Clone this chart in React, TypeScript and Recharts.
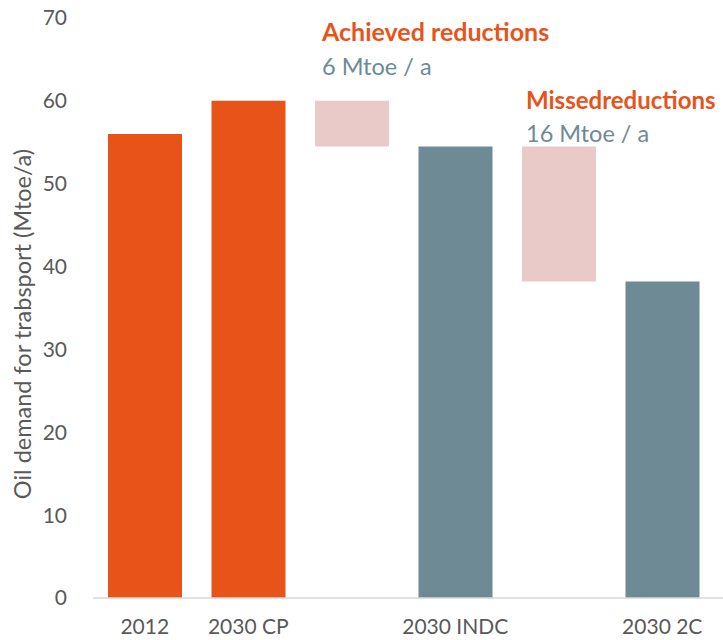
import { BarChart, Bar, XAxis, YAxis, Cell } from "recharts";

const categories = ["2012", "2030 CP", "achieved", "2030 INDC", "missed", "2030 2C"];
const tickLabels = ["2012", "2030 CP", "", "2030 INDC", "", "2030 2C"];
const lowValues = [0, 0, 54.5, 0, 38.2, 0];
const highValues = [56.0, 60.0, 60.0, 54.5, 54.5, 38.2];
const barColors = ["#E8531A", "#E8531A", "#E9CAC8", "#6E8A94", "#E9CAC8", "#6E8A94"];
const yTicks = [0, 10, 20, 30, 40, 50, 60, 70];

const data = categories.map((name, i) => ({
  name,
  label: tickLabels[i],
  range: [lowValues[i], highValues[i]],
}));

const FONT = "Lato, 'Open Sans', sans-serif";

export default function App() {
  return (
    <div style={{ position: "relative", width: 723, height: 640, fontFamily: FONT }}>
      <style>{`body { margin: 0; }`}</style>
      <BarChart
        width={723} height={640} data={data}
        margin={{ top: 18, right: 0, bottom: 12, left: 0 }}
        barSize={74}
      >
        <XAxis
          dataKey="name"
          tickFormatter={(v: string) => tickLabels[categories.indexOf(v)]}
          axisLine={{ stroke: "#d9d9d9", strokeWidth: 1.5 }}
          tickLine={false}
          tickMargin={15}
          padding={{ left: 0, right: 9 }}
          tick={{ fill: "#595959", fontSize: 21, fontFamily: FONT }}
          interval={0}
        />
        <YAxis
          width={93}
          domain={[0, 70]}
          ticks={yTicks}
          axisLine={false}
          tickLine={false}
          tickMargin={20}
          tick={{ fill: "#595959", fontSize: 21, fontFamily: FONT }}
        />
        <Bar dataKey="range" isAnimationActive={false}>
          {data.map((d, i) => (
            <Cell key={d.name} fill={barColors[i]} />
          ))}
        </Bar>
      </BarChart>

      {/* annotations and axis title */}
      <svg width={723} height={640} style={{ position: "absolute", left: 0, top: 0, pointerEvents: "none" }}>
        <text x={22} y={324} transform="rotate(-90 22 324)" textAnchor="middle" dominantBaseline="central"
          fill="#595959" fontSize={23.5} fontFamily={FONT}>
          Oil demand for trabsport (Mtoe/a)
        </text>
        <text x={322} y={41} fill="#E8531A" fontSize={25} fontWeight={700} fontFamily={FONT}>Achieved reductions</text>
        <text x={322} y={75} fill="#6E8A94" fontSize={23.5} fontFamily={FONT}>6 Mtoe / a</text>
        <text x={526} y={109} fill="#E8531A" fontSize={24} fontWeight={700} fontFamily={FONT}>Missedreductions</text>
        <text x={526} y={142} fill="#6E8A94" fontSize={23.5} fontFamily={FONT}>16 Mtoe / a</text>
      </svg>
    </div>
  );
}
